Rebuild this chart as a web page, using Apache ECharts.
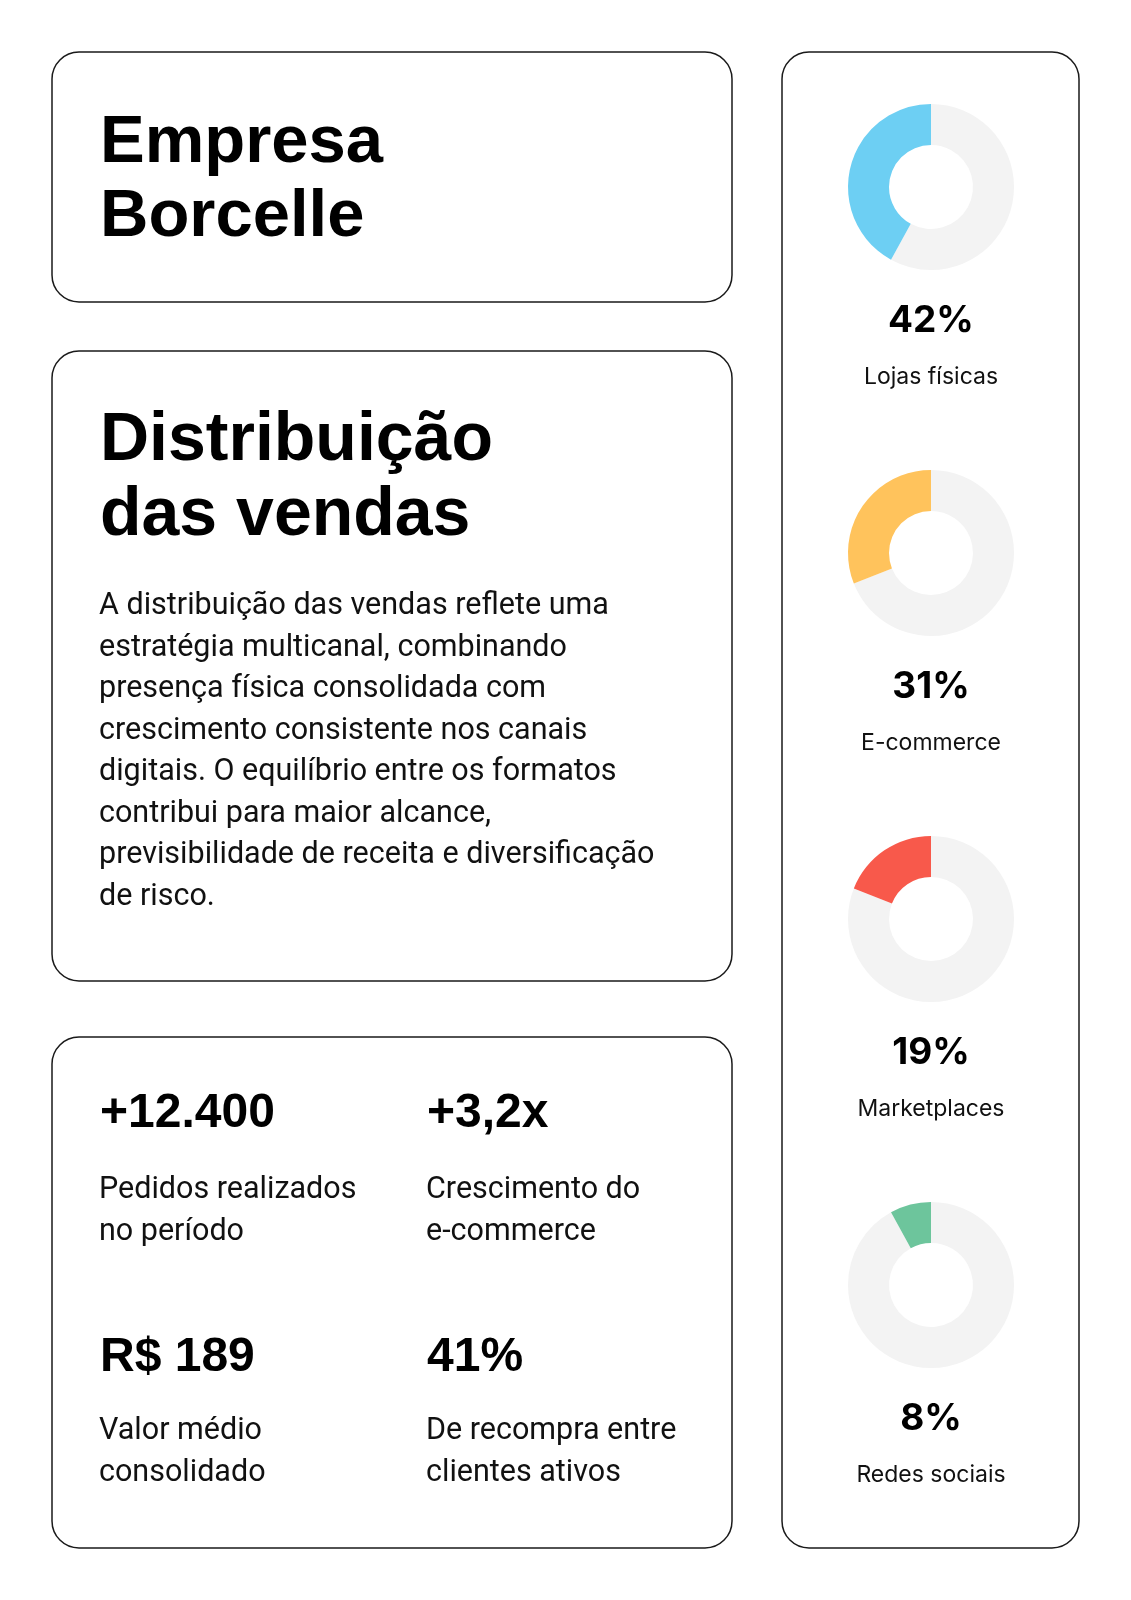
<!DOCTYPE html>
<html lang="pt">
<head>
	<meta charset="UTF-8">
	<title>Distribuição das vendas</title>
	<style>
		html, body { margin: 0; padding: 0; background: #fff; }
		#main { width: 1131px; height: 1600px; }
	</style>
</head>
<body>
	<div id="main"></div>
	<script src="https://cdn.jsdelivr.net/npm/echarts@6/dist/echarts.min.js"></script>
	<script>

		// canais de venda
		var channels = ['Lojas físicas', 'E-commerce', 'Marketplaces', 'Redes sociais'];
		var shares = [42, 31, 19, 8];
		var colors = ['#6dcff3', '#ffc35c', '#f8594b', '#6dc59c'];

		// indicadores
		var kpiValues = ['+12.400', '+3,2x', 'R$ 189', '41%'];
		var kpiLabels = [
			'Pedidos realizados\nno período',
			'Crescimento do\ne-commerce',
			'Valor médio\nconsolidado',
			'De recompra entre\nclientes ativos'
		];

		var title = 'Empresa\nBorcelle';
		var subtitle = 'Distribuição\ndas vendas';
		var bodyLines = [
			'A distribuição das vendas reflete uma',
			'estratégia multicanal, combinando',
			'presença física consolidada com',
			'crescimento consistente nos canais',
			'digitais. O equilíbrio entre os formatos',
			'contribui para maior alcance,',
			'previsibilidade de receita e diversificação',
			'de risco.'
		];

		var chart = echarts.init(document.getElementById('main'), null, { renderer: 'canvas' });

		var titleFont = '"Liberation Sans", Arial, sans-serif';
		var bodyFont = 'Roboto, "Liberation Sans", sans-serif';
		var pctFont = 'Inter, "DejaVu Sans", sans-serif';

		function card(x, y, w, h) {
			return {
				type: 'rect',
				shape: { x: x, y: y, width: w, height: h, r: 27 },
				style: { fill: '#fff', stroke: '#1a1a1a', lineWidth: 1.5 },
				z: 0
			};
		}

		var graphics = [
			card(52, 52, 680, 250),
			card(52, 351, 680, 630),
			card(52, 1037, 680, 511),
			card(782, 52, 297, 1496),
			{
				type: 'text', left: 100, top: 106, z: 2,
				style: { text: title, font: 'bold 67px ' + titleFont, fill: '#000', lineHeight: 74.5 }
			},
			{
				type: 'text', left: 100, top: 404, z: 2,
				style: { text: subtitle, font: 'bold 68px ' + titleFont, fill: '#000', lineHeight: 75 }
			}
		];

		bodyLines.forEach(function (line, i) {
			graphics.push({
				type: 'text', left: 99, top: 591 + i * 41.5, z: 2,
				style: { text: line, font: '30.5px ' + bodyFont, fill: '#111' }
			});
		});

		var kpiPos = [[100, 1090, 1169], [427, 1090, 1169], [100, 1334, 1410], [427, 1334, 1410]];
		kpiValues.forEach(function (v, i) {
			graphics.push({
				type: 'text', left: kpiPos[i][0], top: kpiPos[i][1], z: 2,
				style: { text: v, font: 'bold 48px ' + titleFont, fill: '#000' }
			});
			graphics.push({
				type: 'text', left: kpiPos[i][0] - 1, top: kpiPos[i][2], z: 2,
				style: { text: kpiLabels[i], font: '30.5px ' + bodyFont, fill: '#111', lineHeight: 42 }
			});
		});

		var series = [];
		channels.forEach(function (name, i) {
			var cy = 187 + i * 366;
			series.push({
				type: 'pie',
				name: name,
				center: [931, cy],
				radius: [42, 83],
				startAngle: 90,
				clockwise: true,
				silent: true,
				animation: false,
				label: { show: false },
				labelLine: { show: false },
				data: [
					{ value: 100 - shares[i], name: 'outros', itemStyle: { color: '#f3f3f3' } },
					{ value: shares[i], name: name, itemStyle: { color: colors[i] } }
				]
			});
			graphics.push({
				type: 'text', z: 2,
				x: 931, y: cy + 134,
				style: { text: shares[i] + '%', font: 'bold 37px ' + pctFont, fill: '#000', align: 'center', verticalAlign: 'middle' }
			});
			graphics.push({
				type: 'text', z: 2,
				x: 931, y: cy + 190,
				style: { text: name, font: '23px ' + pctFont, fill: '#111', align: 'center', verticalAlign: 'middle' }
			});
		});

		chart.setOption({
			backgroundColor: '#fff',
			animation: false,
			graphic: graphics,
			series: series
		});

	</script>
</body>
</html>
